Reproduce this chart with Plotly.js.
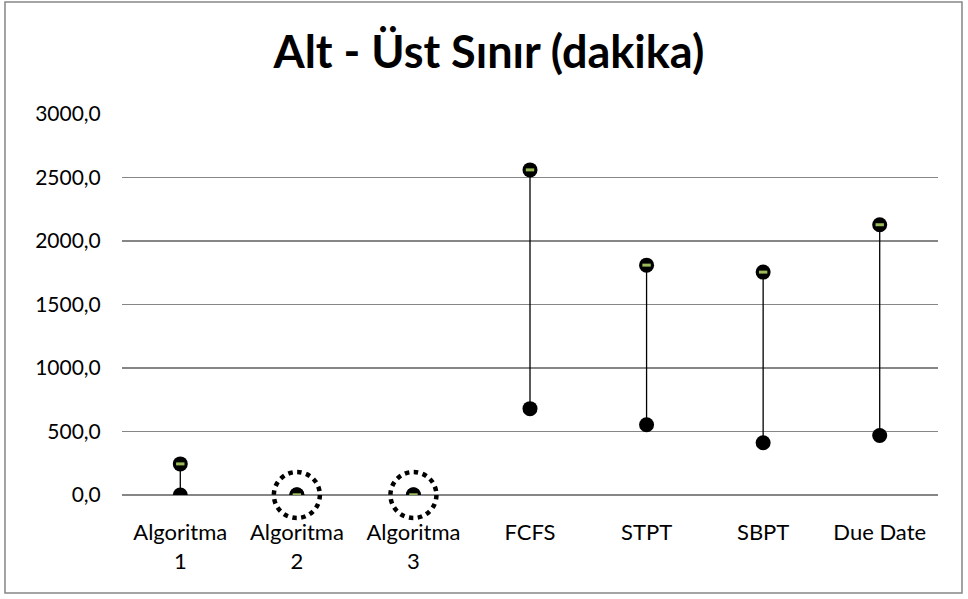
<!DOCTYPE html>
<html>
<head>
<meta charset="utf-8">
<script src="https://cdn.plot.ly/plotly-3.0.1.min.js"></script>
<style>html,body{margin:0;padding:0;background:#fff}#chart{width:968px;height:599px}</style>
</head>
<body>
<div id="chart"></div>
<script>
const categories = ["Algoritma<br>1", "Algoritma<br>2", "Algoritma<br>3", "FCFS", "STPT", "SBPT", "Due Date"];
const highValues = [245, 2, 2, 2560, 1810, 1755, 2128];
const lowValues = [0, 0, 0, 680, 553, 412, 468];
const yTickVals = [0, 500, 1000, 1500, 2000, 2500, 3000];
const yTickText = ["0,0", "500,0", "1000,0", "1500,0", "2000,0", "2500,0", "3000,0"];
const circledCategories = ["Algoritma<br>2", "Algoritma<br>3"];

const font = "Lato, 'Open Sans', sans-serif";

const lx = [], ly = [];
categories.forEach((c, i) => { lx.push(c, c, null); ly.push(lowValues[i], highValues[i], null); });

const traces = [
  {type: "scatter", mode: "lines", x: lx, y: ly, line: {color: "#000", width: 1.3}, hoverinfo: "skip", showlegend: false},
  {type: "scatter", mode: "markers", x: categories, y: lowValues, marker: {symbol: "circle", size: 15, color: "#000"}, showlegend: false},
  {type: "scatter", mode: "markers", x: categories, y: highValues, marker: {symbol: "circle", size: 15, color: "#000"}, showlegend: false},
  {type: "scatter", mode: "markers", x: categories, y: highValues, marker: {symbol: "line-ew", size: 6, color: "#9BBB59", line: {color: "#9BBB59", width: 3}}, showlegend: false}
];

const shapes = [
  {type: "rect", xref: "paper", yref: "paper", x0: -0.1434, x1: 1.0294, y0: -0.257, y1: 1.294,
   line: {color: "#868686", width: 1.5}, fillcolor: "rgba(0,0,0,0)", layer: "below"}
];
circledCategories.forEach(c => {
  shapes.push({type: "circle", xref: "x", yref: "paper", xsizemode: "pixel", ysizemode: "pixel",
    xanchor: c, yanchor: 0, x0: -23, x1: 23, y0: -23, y1: 23,
    line: {color: "#000", width: 4.5, dash: "dot"}, fillcolor: "rgba(0,0,0,0)"});
});

const layout = {
  width: 968, height: 599,
  margin: {l: 122, r: 30, t: 114, b: 104},
  paper_bgcolor: "#fff", plot_bgcolor: "#fff",
  title: {text: "<b>Alt - Üst Sınır (dakika)</b>", font: {family: font, size: 45, color: "#000"}, x: 0.505, xanchor: "center", y: 0.913, yanchor: "middle"},
  xaxis: {type: "category", tickfont: {family: font, size: 22, color: "#000"}, showgrid: false, zeroline: false, showline: false,
          ticks: "outside", ticklen: 18, tickcolor: "rgba(0,0,0,0)", range: [-0.5, 6.5], fixedrange: true},
  yaxis: {range: [0, 3000], tickvals: yTickVals, ticktext: yTickText, tickfont: {family: font, size: 21, color: "#000"},
          showgrid: true, gridcolor: "#868686", gridwidth: 1.3, zeroline: true, zerolinecolor: "#868686", zerolinewidth: 1.3,
          showline: false, ticks: "outside", ticklen: 16, tickcolor: "rgba(0,0,0,0)", fixedrange: true},
  shapes: shapes,
  showlegend: false
};

Plotly.newPlot("chart", traces, layout, {displayModeBar: false, staticPlot: true});
</script>
</body>
</html>
